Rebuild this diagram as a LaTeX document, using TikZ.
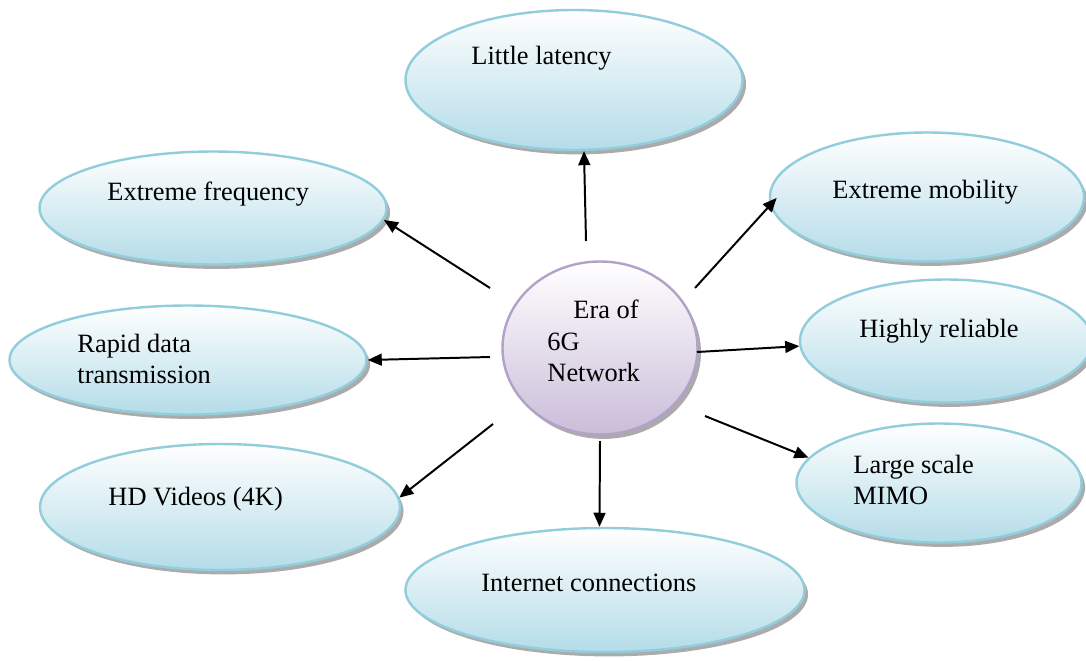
\documentclass[tikz,border=0pt]{standalone}
\usepackage{fontspec}
\setmainfont{Liberation Serif}
\usetikzlibrary{shapes.geometric}
\usetikzlibrary{shadows}
\usetikzlibrary{arrows.meta}

% one unit = one pixel of the layout grid
\def\pxw{0.4545pt}

\definecolor{bubline}{RGB}{146,205,220}
\definecolor{bubfill}{RGB}{180,220,232}
\definecolor{hubline}{RGB}{179,162,199}
\definecolor{hubfill}{RGB}{202,189,217}

\tikzset{
  bubble/.style={ellipse, draw=bubline, line width=1.1pt, top color=white,
    bottom color=bubfill, inner sep=0pt,
    drop shadow={shadow xshift=1.6pt, shadow yshift=-2pt, fill=black!55, opacity=.6}},
  hub/.style={bubble, draw=hubline, bottom color=hubfill},
  txt/.style={anchor=base west, inner sep=0pt, align=left,
    font=\fontsize{12}{13.8}\selectfont},
  arr/.style={line width=0.9pt, -{Triangle[length=6.4pt,width=5.4pt]}}
}

\begin{document}
\begin{tikzpicture}[x=0.4545pt,y=-0.4545pt]

\useasboundingbox (0,0) rectangle (1086,660);

% outer ellipses
\node[bubble, minimum width=337*\pxw, minimum height=140*\pxw] (lat)  at (574,80)  {};
\node[bubble, minimum width=347*\pxw, minimum height=113*\pxw] (freq) at (213,208) {};
\node[bubble, minimum width=314*\pxw, minimum height=129*\pxw] (mob)  at (927,197) {};
\node[bubble, minimum width=357*\pxw, minimum height=109*\pxw] (rap)  at (188,360) {};
\node[bubble, minimum width=292*\pxw, minimum height=123*\pxw] (rel)  at (946,341) {};
\node[bubble, minimum width=360*\pxw, minimum height=126*\pxw] (hd)   at (220,507) {};
\node[bubble, minimum width=285*\pxw, minimum height=119*\pxw] (mimo) at (939,483) {};
\node[bubble, minimum width=399*\pxw, minimum height=124*\pxw] (net)  at (605,590) {};

% centre
\node[hub, minimum width=195*\pxw, minimum height=173*\pxw] (hub) at (600,348) {};

% texts (two-line texts sit on their last baseline)
\node[txt] (tlat)  at (471,64)  {Little latency};
\node[txt] (tfreq) at (107,200) {Extreme frequency};
\node[txt] (tmob)  at (832,198) {Extreme mobility};
\node[txt] (trap)  at (77,383)  {Rapid data\\transmission};
\node[txt] (trel)  at (859,337) {Highly reliable};
\node[txt] (thd)   at (108,505) {HD Videos (4K)};
\node[txt] (tmimo) at (853,504) {Large scale\\MIMO};
\node[txt] (tnet)  at (481,591) {Internet connections};
\node[txt] (thub1) at (573,318) {Era of};
\node[txt] (thub2) at (547,381) {6G\\Network};

% arrow starts around the centre
\coordinate (s-lat)  at (586,241);
\coordinate (s-freq) at (490,288);
\coordinate (s-mob)  at (695,288);
\coordinate (s-rap)  at (490,357);
\coordinate (s-rel)  at (697,352);
\coordinate (s-hd)   at (493,424);
\coordinate (s-mimo) at (705,416);
\coordinate (s-net)  at (600,441);

\draw[arr] (s-lat)  -- (lat.-82.7);
\draw[arr] (s-freq) -- (freq.-4.9);
\draw[arr, shorten >=-4.5pt] (s-mob) -- (mob.183.1);
\draw[arr] (s-rap)  -- (rap.east);
\draw[arr] (s-rel)  -- (rel.182.8);
\draw[arr] (s-hd)   -- (hd.3.8);
\draw[arr] (s-mimo) -- (mimo.169.4);
\draw[arr] (s-net)  -- (net.95.8);

\end{tikzpicture}
\end{document}
